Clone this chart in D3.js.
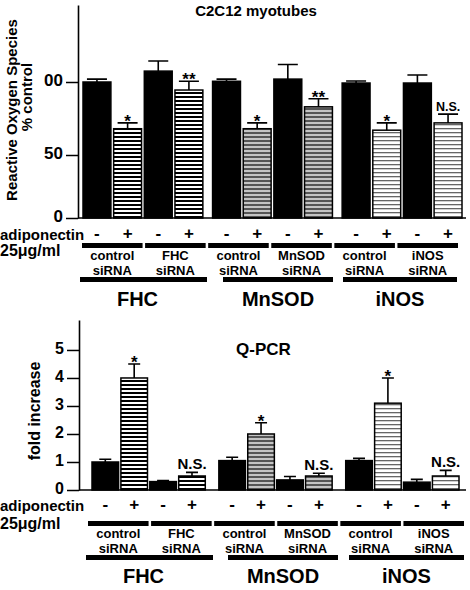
<!DOCTYPE html>
<html><head><meta charset="utf-8">
<script src="https://cdn.jsdelivr.net/npm/d3@7"></script>
<style>
html,body{margin:0;padding:0;background:#fff;}
text{font-family:Arial,"Liberation Sans",Helvetica,sans-serif;font-weight:bold;fill:#000;}
</style></head>
<body><svg id="c" width="470" height="590"></svg>
<script>
// ---------- data ----------
const groups = ["FHC", "MnSOD", "iNOS"];
const conditions = ["ctrl-", "ctrl+", "si-", "si+"];
const adiponectin = ["-", "+", "-", "+"];
const pairLabels = [["control","siRNA"],["FHC","siRNA"],["control","siRNA"],["MnSOD","siRNA"],["control","siRNA"],["iNOS","siRNA"]];

const rosMean = [100, 68, 107.5, 94.5, 100.5, 68, 102, 83, 99.3, 67, 99.3, 72];
const rosErr  = [2, 4, 7, 6, 1.5, 4, 10, 5.5, 1.4, 5, 5.5, 6];
const rosSig  = ["", "*", "", "**", "", "*", "", "**", "", "*", "", "N.S."];
const rosTicks = [0, 50, 100];
const rosTickLabels = ["0", "50", "00"];

const pcrMean = [1.0, 4.0, 0.3, 0.5, 1.05, 2.0, 0.36, 0.5, 1.05, 3.1, 0.28, 0.5];
const pcrErr  = [0.1, 0.5, 0.04, 0.13, 0.12, 0.4, 0.12, 0.1, 0.08, 0.9, 0.1, 0.2];
const pcrSig  = ["", "*", "", "N.S.", "", "*", "", "N.S.", "", "*", "", "N.S."];
const pcrTicks = [0, 1, 2, 3, 4, 5];

// ---------- drawing ----------
const svg = d3.select("#c");
const defs = svg.append("defs");
function stripe(id, bg, fg, lw, period){
  const p = defs.append("pattern").attr("id", id).attr("patternUnits","userSpaceOnUse")
    .attr("width", 8).attr("height", period);
  p.append("rect").attr("width", 8).attr("height", period).attr("fill", bg);
  p.append("rect").attr("y", 0).attr("width", 8).attr("height", lw).attr("fill", fg);
}
stripe("pFHC", "#fff", "#000", 2, 4);
stripe("pMn", "#c4c4c4", "#555", 2, 4);
stripe("pNOS", "#fff", "#666", 1.3, 4);
const patFor = {FHC:"url(#pFHC)", MnSOD:"url(#pMn)", iNOS:"url(#pNOS)"};

function panel(o){
  const g = svg.append("g");
  const x0 = d3.scaleBand().domain(groups).range(o.xRange).paddingInner(o.groupPad);
  const x1 = d3.scaleBand().domain(conditions).range([0, x0.bandwidth()]).paddingInner(o.barPad);
  const y = o.y;
  const rows = [];
  groups.forEach((gr, gi) => conditions.forEach((c, ci) => {
    const i = gi*4 + ci;
    rows.push({gr, c, ci, i, v:o.mean[i], e:o.err[i], s:o.sig[i], x:x0(gr)+x1(c)});
  }));
  const bw = x1.bandwidth();
  // bars
  g.selectAll("rect.bar").data(rows).join("rect").attr("class","bar")
    .attr("x", d => d.x).attr("width", bw)
    .attr("y", d => y(d.v)).attr("height", d => y(0) - y(d.v))
    .attr("fill", d => d.ci % 2 === 0 ? "#000" : patFor[d.gr])
    .attr("stroke", "#000").attr("stroke-width", 1.5);
  // error bars
  g.selectAll("path.err").data(rows).join("path").attr("class","err")
    .attr("d", d => {
      const cx = d.x + bw/2, t = y(d.v + d.e);
      return `M${cx},${y(d.v)}V${t}M${cx - o.cap/2},${t}H${cx + o.cap/2}`;
    }).attr("stroke", "#000").attr("stroke-width", 1.6).attr("fill", "none");
  // significance
  g.selectAll("text.sig").data(rows.filter(d => d.s)).join("text").attr("class","sig")
    .attr("x", d => d.x + bw/2)
    .attr("y", d => y(d.v + d.e) - (d.s === "N.S." ? 3 : -4))
    .attr("text-anchor","middle")
    .style("font-size", d => d.s === "N.S." ? o.nsSize + "px" : "17px")
    .text(d => d.s);
  // y axis
  const ax = d3.axisLeft(y).tickValues(o.ticks).tickSize(12).tickSizeOuter(0).tickPadding(3)
    .tickFormat((d, i) => o.tickLabels[i]);
  const ag = g.append("g").attr("transform", `translate(${o.axisX},0)`).call(ax);
  ag.select(".domain").attr("stroke-width", 1.6);
  ag.selectAll(".tick line").attr("stroke-width", 1.5);
  ag.selectAll(".tick text").style("font-size", o.tickSize + "px").style("font-family", "Arial, 'Liberation Sans', sans-serif").attr("dy","0.22em");
  // baseline
  g.append("line").attr("x1", o.axisX).attr("x2", o.baseEnd).attr("y1", y(0)).attr("y2", y(0))
    .attr("stroke", "#000").attr("stroke-width", 1.6);
  // y titles
  o.yTitles.forEach(t => g.append("text")
    .attr("transform", `translate(${t.x},${t.y}) rotate(-90)`)
    .attr("text-anchor","middle").attr("dominant-baseline","central")
    .style("font-size", t.size + "px").text(t.text));
  // title
  g.append("text").attr("x", o.title.x).attr("y", o.title.y).attr("text-anchor", o.title.anchor)
    .style("font-size", o.title.size + "px").text(o.title.text);
  // adiponectin row
  g.append("text").attr("x", 0).attr("y", o.signY + 7).style("font-size","15px").text("adiponectin");
  g.append("text").attr("x", 0).attr("y", o.doseY + 6).style("font-size","16px").text("25\u03bcg/ml");
  g.selectAll("text.pm").data(rows).join("text").attr("class","pm")
    .attr("x", d => d.x + bw/2).attr("y", o.signY + 6)
    .attr("text-anchor","middle").style("font-size","17px")
    .text(d => adiponectin[d.ci]);
  // siRNA pair bars
  const pairs = d3.range(6);
  const xp = d3.scaleBand().domain(pairs).range(o.pairRange).paddingInner(0.04);
  g.selectAll("rect.pl").data(pairs).join("rect").attr("class","pl")
    .attr("x", d => xp(d)).attr("width", xp.bandwidth()).attr("y", o.pairBarY).attr("height", 5).attr("fill","#000");
  pairs.forEach(p => {
    const t = g.append("text").attr("x", xp(p) + xp.bandwidth()/2).attr("y", o.pairTextY)
      .attr("text-anchor","middle").style("font-size","13px");
    pairLabels[p].forEach((s, k) => t.append("tspan").attr("x", xp(p) + xp.bandwidth()/2).attr("dy", k ? 15 : 0).text(s));
  });
  // group bars
  g.selectAll("rect.gl").data(o.groupSpans).join("rect").attr("class","gl")
    .attr("x", d => d[0]).attr("width", d => d[1] - d[0]).attr("y", o.groupBarY).attr("height", 5).attr("fill","#000");
  g.selectAll("text.gt").data(groups).join("text").attr("class","gt")
    .attr("x", (d, i) => (o.groupSpans[i][0] + o.groupSpans[i][1]) / 2 - (i === 0 ? 6 : 0))
    .attr("y", o.groupTextY).attr("text-anchor","middle").style("font-size","20px").text(d => d);
}

panel({
  xRange:[83, 462], groupPad:0.075, barPad:0.09,
  y: d3.scaleLinear().domain([0, 50, 100, 153]).range([218, 155, 82, 5]),
  mean: rosMean, err: rosErr, sig: rosSig, cap: 20, nsSize: 12.5,
  ticks: rosTicks, tickLabels: rosTickLabels, tickSize: 17, axisX: 78, baseEnd: 466,
  yTitles:[{x:11, y:110, size:15, text:"Reactive Oxygen Species"},{x:26, y:97, size:15, text:"% control"}],
  title:{x:256, y:16, size:15, anchor:"middle", text:"C2C12 myotubes"},
  signY: 233, doseY: 250,
  pairRange:[82, 458], pairBarY: 243, pairTextY: 260,
  groupSpans:[[80, 207], [223, 333], [343, 457]], groupBarY: 277, groupTextY: 306
});

panel({
  xRange:[92, 459], groupPad:0.107, barPad:0.08,
  y: d3.scaleLinear().domain([0, 6.07]).range([490, 320]),
  mean: pcrMean, err: pcrErr, sig: pcrSig, cap: 12, nsSize: 15,
  ticks: pcrTicks, tickLabels: pcrTicks.map(String), tickSize: 16, axisX: 79, baseEnd: 466,
  yTitles:[{x:34, y:411, size:16, text:"fold increase"}],
  title:{x:236, y:355, size:17, anchor:"start", text:"Q-PCR"},
  signY: 504, doseY: 523,
  pairRange:[88, 464], pairBarY: 521, pairTextY: 538,
  groupSpans:[[86, 213], [228, 338], [349, 464]], groupBarY: 555, groupTextY: 583
});
</script></body></html>
